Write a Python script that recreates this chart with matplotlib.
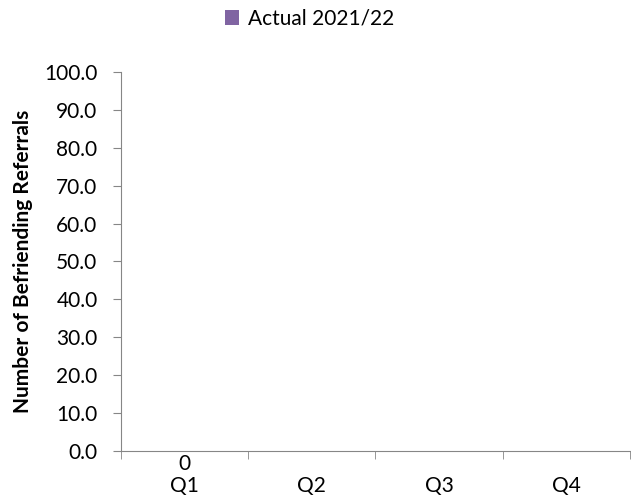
import matplotlib
import matplotlib.pyplot as plt
import numpy as np

matplotlib.use("Agg")
plt.rcParams["font.family"] = ["Lato", "DejaVu Sans"]

quarters = ["Q1", "Q2", "Q3", "Q4"]
actual = [0, np.nan, np.nan, np.nan]
series_name = "Actual 2021/22"
bar_color = "#8064a2"

fig = plt.figure(figsize=(6.31, 4.99), dpi=100)
ax = fig.add_axes([0.192, 0.096, 0.806, 0.76])

x = np.arange(len(quarters))
bars = ax.bar(x, np.nan_to_num(actual), width=0.6, color=bar_color, label=series_name)
for xi, v in zip(x, actual):
    if not np.isnan(v):
        ax.annotate(f"{v:g}", (xi, v), xytext=(0, -9), textcoords="offset points",
                    ha="center", va="center", fontsize=15)

ax.set_xlim(-0.5, len(quarters) - 0.5)
ax.set_ylim(0, 100)
ax.set_yticks(np.arange(0, 101, 10))
ax.set_yticklabels([f"{t:.1f}" for t in np.arange(0, 101, 10)], fontsize=15)
ax.set_xticks(x)
ax.set_xticklabels(quarters, fontsize=15)
ax.tick_params(axis="x", length=0, pad=18)
ax.set_xticks(np.arange(-0.5, len(quarters)), minor=True)
ax.tick_params(axis="x", which="minor", length=6, color="#868686", direction="out")
ax.tick_params(axis="y", length=6, color="#868686", pad=11)

for s in ["top", "right"]:
    ax.spines[s].set_visible(False)
ax.spines["left"].set_color("#868686")
ax.spines["bottom"].set_color("#868686")

ax.set_ylabel("Number of Befriending Referrals", fontsize=15, fontweight="bold", labelpad=8)

fig.legend(handles=[bars], labels=[series_name], loc="upper center", bbox_to_anchor=(0.49, 1.02),
           frameon=False, fontsize=15, handlelength=0.7, handleheight=0.7, handletextpad=0.4)

fig.savefig("out.png", dpi=100)
